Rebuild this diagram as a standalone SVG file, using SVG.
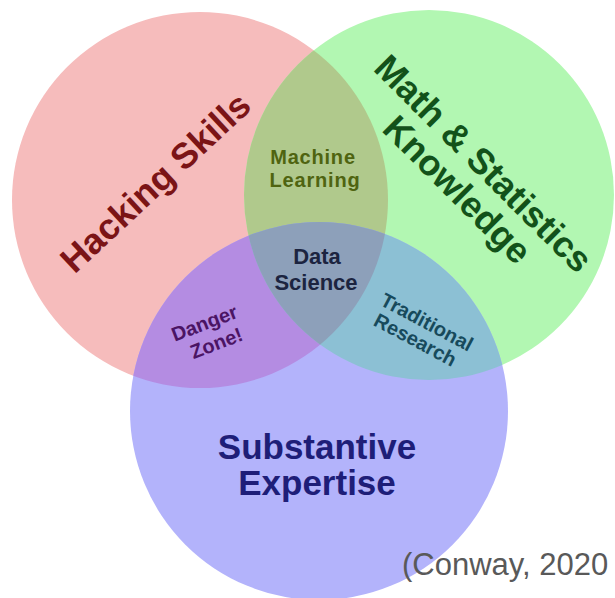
<svg xmlns="http://www.w3.org/2000/svg" xmlns:xlink="http://www.w3.org/1999/xlink" width="615" height="598" viewBox="0 0 615 598">
<style>
text{font-family:"Liberation Sans",Arial,sans-serif;font-weight:bold;text-anchor:middle}
.big{font-size:36px}
.mid{font-size:20px;letter-spacing:0.8px}
.ds{font-size:22px}
.sm{font-size:20px}
.sub{font-size:35px}
.cite{font-weight:normal;text-anchor:start;font-size:31px;fill:#595959}
</style>
<defs>
<circle id="R" cx="200" cy="200" r="188"/>
<circle id="G" cx="429" cy="195" r="185"/>
<circle id="B" cx="319" cy="411" r="189"/>
<clipPath id="cR"><use xlink:href="#R"/></clipPath>
<clipPath id="cG"><use xlink:href="#G"/></clipPath>
</defs>
<rect width="615" height="598" fill="#ffffff"/>
<g id="circles">
<use xlink:href="#R" fill="#F6BCBC"/>
<use xlink:href="#G" fill="#B2F7B2"/>
<use xlink:href="#B" fill="#B3B3FB"/>
<use xlink:href="#G" fill="#B0C98C" clip-path="url(#cR)"/>
<use xlink:href="#B" fill="#B48CE2" clip-path="url(#cR)"/>
<use xlink:href="#B" fill="#8CC0D4" clip-path="url(#cG)"/>
<g clip-path="url(#cR)"><use xlink:href="#B" fill="#8DA0BA" clip-path="url(#cG)"/></g>
</g>
<g id="hacking" transform="translate(155,182) rotate(-43)"><text class="big" y="13" fill="#7B1416">Hacking Skills</text></g>
<g id="math" transform="translate(484,163) rotate(45)" fill="#12521A"><text class="big" y="13">Math &amp; Statistics</text><text class="big" y="50">Knowledge</text></g>
<g id="substantive" fill="#1E1E78"><text class="sub" x="317" y="459">Substantive</text><text class="sub" x="317" y="495">Expertise</text></g>
<g id="ml" fill="#4F6410"><text class="mid" x="313" y="164">Machine</text><text class="mid" x="315" y="187">Learning</text></g>
<g id="ds" fill="#1C2440"><text class="ds" x="317" y="264">Data</text><text class="ds" x="316" y="290">Science</text></g>
<g id="danger" transform="translate(204,322) rotate(-21)" fill="#4B1464"><text class="sm" y="8">Danger</text><text class="sm" x="4" y="31">Zone!</text></g>
<g id="trad" transform="translate(427,322) rotate(28)" fill="#174A5C"><text class="sm" y="7">Traditional</text><text class="sm" x="-2" y="28">Research</text></g>
<text class="cite" x="402" y="575">(Conway, 2020</text>
</svg>
